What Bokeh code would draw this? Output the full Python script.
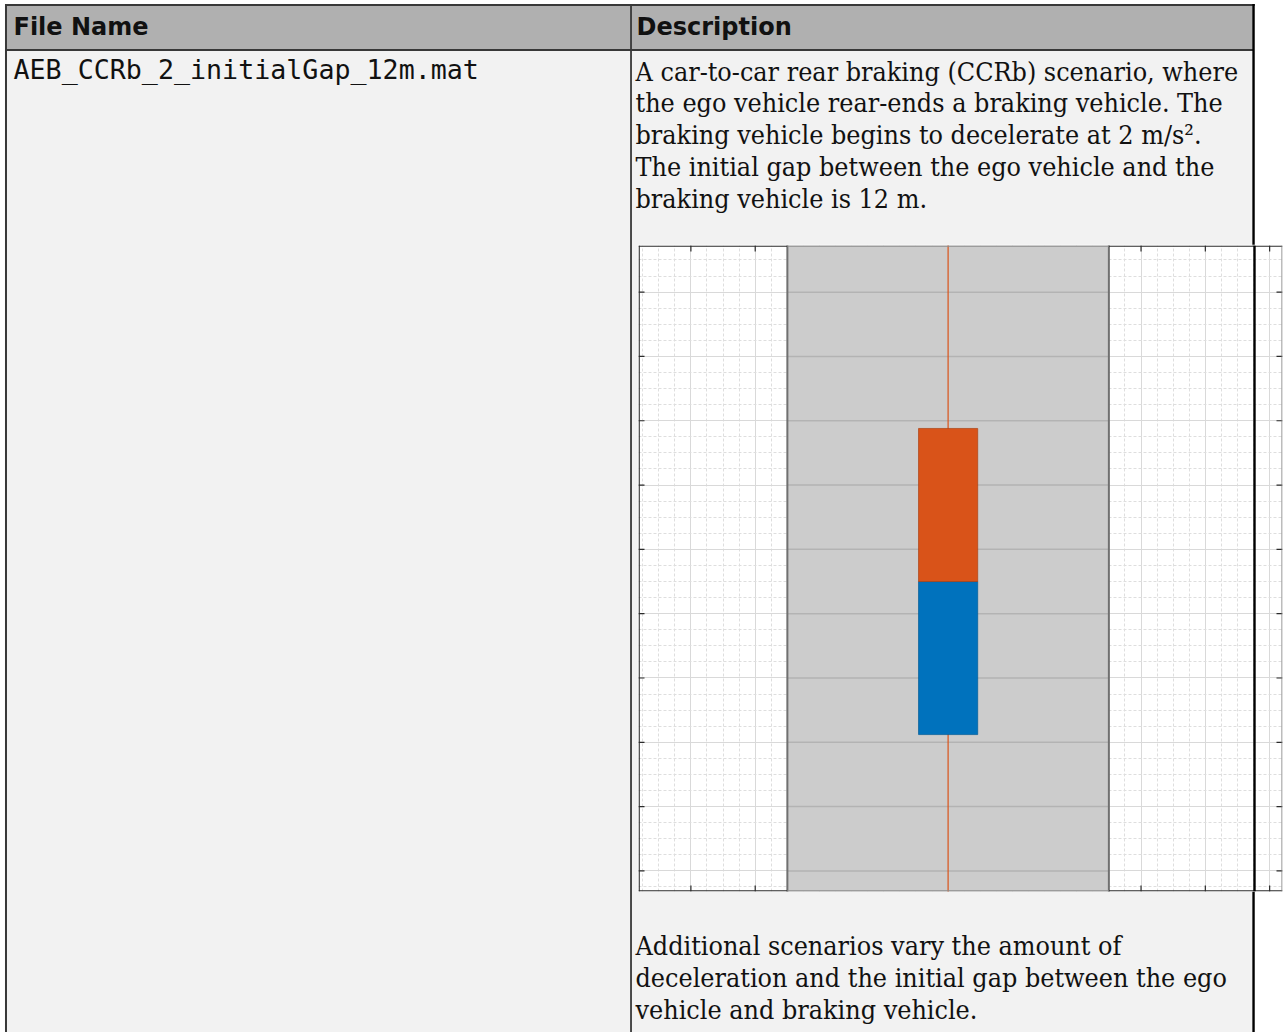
import numpy as np
from bokeh.plotting import figure
from bokeh.layouts import column
from bokeh.models import SingleIntervalTicker, Grid, BoxAnnotation, ColumnDataSource, Range1d
from bokeh.core.properties import value
from bokeh.embed import file_html
from bokeh.resources import INLINE

# ---------------- data ----------------
HEADERS = ["File Name", "Description"]
FILE_NAME = "AEB_CCRb_2_initialGap_12m.mat"
DESC_LINES = [
    "A car-to-car rear braking (CCRb) scenario, where",
    "the ego vehicle rear-ends a braking vehicle. The",
    "braking vehicle begins to decelerate at 2 m/s\u00b2.",
    "The initial gap between the ego vehicle and the",
    "braking vehicle is 12 m.",
]
NOTE_LINES = [
    "Additional scenarios vary the amount of",
    "deceleration and the initial gap between the ego",
    "vehicle and braking vehicle.",
]

ROAD_CENTER = [0.0]
ROAD_WIDTH = [10.0]
VEHICLE_NAMES = ["Ego vehicle", "Braking vehicle"]
VEHICLE_X = [0.0, 0.0]
VEHICLE_REAR = [4.24, 9.00]
VEHICLE_LENGTH = [4.76, 4.76]
VEHICLE_WIDTH = [1.84, 1.84]
VEHICLE_COLORS = ["#0072BD", "#D95319"]
VEHICLE_EDGES = ["#005b97", "#ad4214"]
TICK_STEP = 2.0
X_LIMITS = [-9.63, 10.40]
Y_LIMITS = [-0.64, 19.45]

# ---------------- page layout (pixels) ----------------
PAGE_W, PAGE_H = 1284, 1032
AX_L, AX_T, AX_W, AX_H = 638, 245, 644, 646
SERIF = "'DejaVu Serif Condensed', 'DejaVu Serif', serif"
BORDER = "#383838"
TXT = "#111111"

# ================= table (page-pixel coordinates) =================
tp = figure(width=PAGE_W, height=PAGE_H, x_range=Range1d(0, PAGE_W), y_range=Range1d(PAGE_H, 0),
            output_backend="svg", toolbar_location=None, min_border=0,
            x_axis_location=None, y_axis_location=None, outline_line_color=None,
            background_fill_color="white", border_fill_color="white")
tp.grid.visible = False

tp.quad(left=[4, 4], right=[1254, 1254], top=[4, 49.5], bottom=[49.5, PAGE_H + 5],
        fill_color=["#b0b0b0", "#f2f2f2"], line_color=None)
tp.quad(left=[3.5, 3.5, 3.5, 629.6, 1252.8],
        right=[1255.2, 5.5, 1254, 631.4, 1255.2],
        top=[3.5, 3.5, 48.6, 3.5, 3.5],
        bottom=[5.5, PAGE_H + 5, 50.4, PAGE_H + 5, PAGE_H + 5],
        fill_color=[BORDER, BORDER, BORDER, BORDER, "#000000"], line_color=None)

tp.text(x=[12, 636], y=[26, 26], text=HEADERS, text_font=value("DejaVu Sans"),
        text_font_size=value("24px"), text_font_style="bold", text_color=TXT,
        text_baseline="alphabetic", text_align="left")
tp.text(x=[12], y=[69], text=[FILE_NAME], text_font=value("DejaVu Sans Mono"),
        text_font_size=value("26.67px"), text_color=TXT,
        text_baseline="alphabetic", text_align="left")
tp.text(x=[635] * len(DESC_LINES), y=[70.5 + 31.9 * i for i in range(len(DESC_LINES))],
        text=DESC_LINES, text_font=value(SERIF), text_font_size=value("26.67px"),
        text_color=TXT, text_baseline="alphabetic", text_align="left")
tp.text(x=[635] * len(NOTE_LINES), y=[945 + 32 * i for i in range(len(NOTE_LINES))],
        text=NOTE_LINES, text_font=value(SERIF), text_font_size=value("26.67px"),
        text_color=TXT, text_baseline="alphabetic", text_align="left")

# ================= scenario plot (metres) =================
X0, X1 = X_LIMITS
Y0, Y1 = Y_LIMITS
mx = (X1 - X0) / AX_W
my = (Y1 - Y0) / AX_H
sp = figure(width=AX_W + 2, height=AX_H + 2, x_range=Range1d(X0, X1), y_range=Range1d(Y0, Y1),
            output_backend="svg", toolbar_location=None, min_border=1,
            x_axis_location=None, y_axis_location=None,
            background_fill_color="white", border_fill_color="white",
            outline_line_color=None)
sp.margin = (-(PAGE_H - AX_T + 1), 0, 0, AX_L - 1)

rl = [c - w / 2 for c, w in zip(ROAD_CENTER, ROAD_WIDTH)]
rr = [c + w / 2 for c, w in zip(ROAD_CENTER, ROAD_WIDTH)]

# grid (major solid, minor dotted)
sp.center = [r for r in sp.center if not isinstance(r, Grid)]
for dim in (0, 1):
    sp.add_layout(Grid(dimension=dim,
                       ticker=SingleIntervalTicker(interval=TICK_STEP, num_minor_ticks=4),
                       grid_line_color="#d9d9d9", grid_line_width=1,
                       minor_grid_line_color="#dedede", minor_grid_line_dash="3 2",
                       minor_grid_line_width=1), "center")

# road
sp.quad(left=rl, right=rr, bottom=[Y0 - 1], top=[Y1 + 1], fill_color="#cccccc", line_color=None)
ticks_y = np.arange(np.ceil(Y0 / TICK_STEP) * TICK_STEP, Y1, TICK_STEP)
ticks_x_all = np.arange(np.ceil(X0 / TICK_STEP) * TICK_STEP, X1, TICK_STEP)
ticks_x = np.array([t for t in ticks_x_all if t < rl[0] or t > rr[0]])
sp.segment(x0=[rl[0]] * len(ticks_y), x1=[rr[0]] * len(ticks_y), y0=ticks_y, y1=ticks_y,
           line_color="#b3b3b3", line_width=1.5)
sp.segment(x0=rl + rr, x1=rl + rr, y0=[Y0 - 1] * 2, y1=[Y1 + 1] * 2,
           line_color="#707070", line_width=2)
sp.segment(x0=ROAD_CENTER, x1=ROAD_CENTER, y0=[Y0 - 1], y1=[Y1 + 1],
           line_color="#D95319", line_alpha=0.8, line_width=1.5)

# vehicles
vsrc = ColumnDataSource(dict(
    name=VEHICLE_NAMES,
    left=[x - w / 2 for x, w in zip(VEHICLE_X, VEHICLE_WIDTH)],
    right=[x + w / 2 for x, w in zip(VEHICLE_X, VEHICLE_WIDTH)],
    bottom=VEHICLE_REAR,
    top=[r + l for r, l in zip(VEHICLE_REAR, VEHICLE_LENGTH)],
    color=VEHICLE_COLORS,
    edge=VEHICLE_EDGES,
))
sp.quad(left="left", right="right", bottom="bottom", top="top", source=vsrc,
        fill_color="color", line_color="edge", line_width=1, line_alpha=0.7)

# inward tick marks on all four sides (6 px long)
TL = 6
ny, nx = len(ticks_y), len(ticks_x)
sp.segment(x0=[X0] * ny + [X1] * ny, x1=[X0 + TL * mx] * ny + [X1 - TL * mx] * ny,
           y0=list(ticks_y) * 2, y1=list(ticks_y) * 2, line_color="#2b2b2b", line_width=1.2)
sp.segment(x0=list(ticks_x) * 2, x1=list(ticks_x) * 2,
           y0=[Y1] * nx + [Y0] * nx, y1=[Y1 - TL * my] * nx + [Y0 + TL * my] * nx,
           line_color="#2b2b2b", line_width=1.2)


# axes box: dark on the white area, grey where the road covers it
def edge_box(color, left=None, right=None, top=None, bottom=None):
    sp.add_layout(BoxAnnotation(left=left, right=right, top=top, bottom=bottom,
                                fill_color=color, fill_alpha=1, line_color=None))


t = 1.3
for yt_, yb_ in ((Y1, Y1 - t * my), (Y0 + t * my, Y0)):
    edge_box("#2b2b2b", left=X0, right=rl[0], top=yt_, bottom=yb_)
    edge_box("#8c8c8c", left=rl[0], right=rr[0], top=yt_, bottom=yb_)
    edge_box("#2b2b2b", left=rr[0], right=X1, top=yt_, bottom=yb_)
edge_box("#2b2b2b", left=X0, right=X0 + t * mx)
edge_box("#7a7a7a", left=X1 - 1.0 * mx, right=X1)

# table's right border passes over the plot
edge_box("#000000", left=X0 + (1252.8 - AX_L) * mx, right=X0 + (1255.2 - AX_L) * mx)

layout = column(tp, sp, spacing=0)
open("out.html", "w").write(file_html(layout, INLINE))
